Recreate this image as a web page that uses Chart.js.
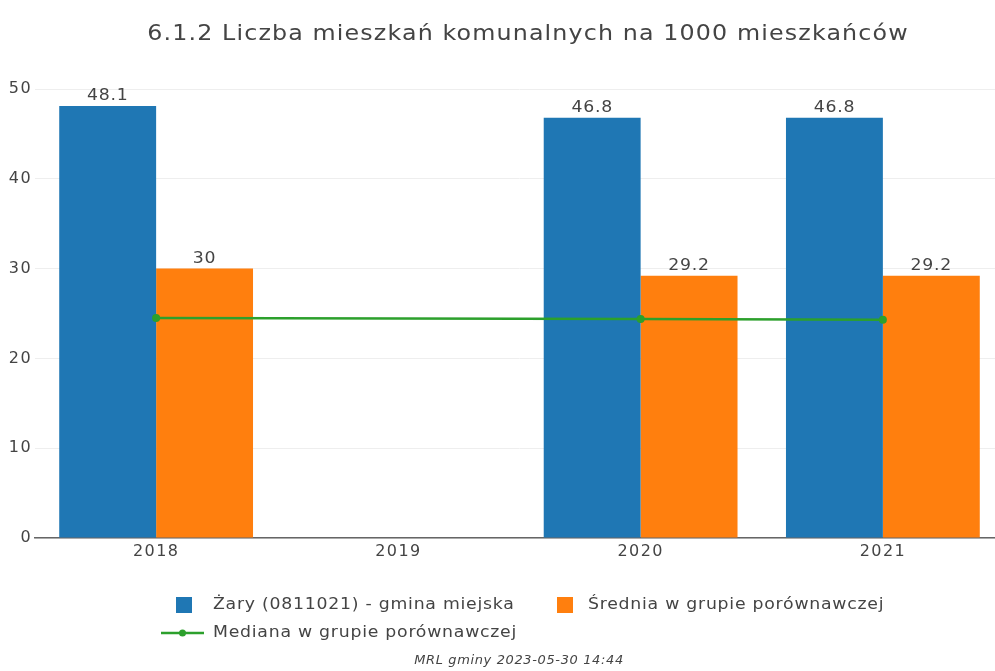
<!DOCTYPE html>
<html>
<head>
<meta charset="utf-8">
<script src="https://cdn.jsdelivr.net/npm/chart.js@4"></script>
<style>
html,body{margin:0;padding:0;background:#fff;overflow:hidden;}
#wrap{position:relative;width:1054px;height:671px;}
</style>
</head>
<body>
<div id="wrap"><canvas id="c" width="1054" height="671"></canvas></div>
<script>
const categories = ['2018', '2019', '2020', '2021'];
const zaryValues = [48.1, null, 46.8, 46.8];
const sredniaValues = [30, null, 29.2, 29.2];
const medianaValues = [24.5, null, 24.4, 24.3];
const yTicks = [0, 10, 20, 30, 40, 50];
const titleText = '6.1.2 Liczba mieszkań komunalnych na 1000 mieszkańców';
const footerText = 'MRL gminy 2023-05-30 14:44';
const seriesNames = ['Żary (0811021) - gmina miejska', 'Średnia w grupie porównawczej', 'Mediana w grupie porównawczej'];

const FONT = "'DejaVu Sans', Verdana, sans-serif";
const TXT = '#444';
const BLUE = '#1f77b4', ORANGE = '#ff7f0e', GREEN = '#2ca02c';

function drawText(ctx, text, x, y, align, font, sx, ls) {
  ctx.save();
  ctx.translate(x, y);
  ctx.scale(sx, 1);
  ctx.font = font;
  ctx.letterSpacing = ls;
  ctx.textAlign = align;
  ctx.fillStyle = TXT;
  ctx.fillText(text, 0, 0);
  ctx.restore();
}

const spacing = {
  id: 'spacing',
  beforeLayout(chart) { chart.ctx.letterSpacing = '1.4px'; },
  beforeDraw(chart) { chart.ctx.letterSpacing = '1.4px'; }
};

const barLabels = {
  id: 'barLabels',
  afterDatasetsDraw(chart) {
    const ctx = chart.ctx;
    ctx.save();
    ctx.textBaseline = 'alphabetic';
    chart.data.datasets.forEach((ds, i) => {
      if (ds.type === 'line') return;
      const meta = chart.getDatasetMeta(i);
      meta.data.forEach((el, j) => {
        const v = ds.data[j];
        if (v === null || v === undefined) return;
        drawText(ctx, String(v), el.x, el.y - 6, 'center', '16px ' + FONT, 1.08, '0.7px');
      });
    });
    ctx.restore();
  }
};

const extras = {
  id: 'extras',
  afterDraw(chart) {
    const ctx = chart.ctx;
    ctx.save();
    ctx.textBaseline = 'middle';
    drawText(ctx, titleText, 528, 34, 'center', '22px ' + FONT, 1.08, '1.05px');
    const ds = chart.data.datasets;
    // row 1
    ctx.fillStyle = ds[0].backgroundColor;
    ctx.fillRect(176, 597, 16, 16);
    drawText(ctx, ds[0].label, 213, 605, 'left', '16px ' + FONT, 1.08, '0.7px');
    ctx.fillStyle = ds[1].backgroundColor;
    ctx.fillRect(557, 597, 16, 16);
    drawText(ctx, ds[1].label, 588, 605, 'left', '16px ' + FONT, 1.08, '0.7px');
    // row 2
    ctx.strokeStyle = ds[2].borderColor;
    ctx.lineWidth = 2.5;
    ctx.beginPath();
    ctx.moveTo(161, 633);
    ctx.lineTo(204, 633);
    ctx.stroke();
    ctx.fillStyle = ds[2].borderColor;
    ctx.beginPath();
    ctx.arc(182.5, 633, 3.5, 0, Math.PI * 2);
    ctx.fill();
    drawText(ctx, ds[2].label, 213, 633, 'left', '16px ' + FONT, 1.08, '0.7px');
    // footer
    drawText(ctx, footerText, 519, 661, 'center', 'italic 12px ' + FONT, 1.08, '0.6px');
    ctx.restore();
  }
};

new Chart(document.getElementById('c'), {
  type: 'bar',
  data: {
    labels: categories,
    datasets: [
      { label: seriesNames[0], data: zaryValues, backgroundColor: BLUE, order: 2,
        categoryPercentage: 0.8, barPercentage: 1.0 },
      { label: seriesNames[1], data: sredniaValues, backgroundColor: ORANGE, order: 2,
        categoryPercentage: 0.8, barPercentage: 1.0 },
      { type: 'line', label: seriesNames[2], data: medianaValues, borderColor: GREEN,
        backgroundColor: GREEN, borderWidth: 2.5, pointRadius: 4, pointHoverRadius: 4,
        pointBackgroundColor: GREEN, pointBorderWidth: 0, spanGaps: true, order: 0, tension: 0 }
    ]
  },
  options: {
    responsive: false,
    animation: false,
    events: [],
    layout: { padding: { left: 0, right: 50, top: 89, bottom: 103 } },
    plugins: { legend: { display: false }, title: { display: false }, tooltip: { enabled: false } },
    scales: {
      x: {
        grid: { display: false, drawTicks: false },
        border: { display: true, color: '#666', width: 1.5 },
        ticks: { color: TXT, font: { family: FONT, size: 16 }, padding: 4 },
        afterFit(s) { s.height = 30; }
      },
      y: {
        min: 0, max: 50,
        afterBuildTicks(s) { s.ticks = yTicks.map(v => ({ value: v })); },
        grid: { color: '#eeeeee', lineWidth: 1, drawTicks: false },
        border: { display: false },
        ticks: { color: TXT, font: { family: FONT, size: 16 }, padding: 3 },
        afterFit(s) { s.width = 35; }
      }
    }
  },
  plugins: [spacing, barLabels, extras]
});
</script>
</body>
</html>
